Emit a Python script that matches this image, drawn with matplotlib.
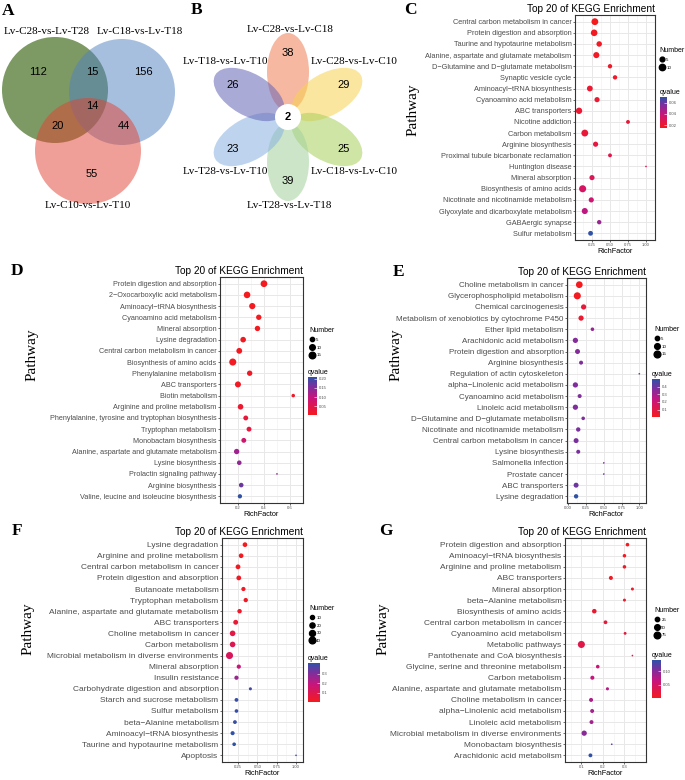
import numpy as np
import matplotlib
matplotlib.use("Agg")
import matplotlib.pyplot as plt
from matplotlib.patches import Circle, Ellipse
from matplotlib.colors import LinearSegmentedColormap
from matplotlib.ticker import MultipleLocator

W, H = 685, 780
SANS = ["Liberation Sans", "DejaVu Sans"]
SERIF = ["Liberation Serif", "DejaVu Serif"]
plt.rcParams["font.family"] = SANS

# ---------------- data ----------------
# A: three-set venn
venn_labels = ["Lv-C28-vs-Lv-T28", "Lv-C18-vs-Lv-T18", "Lv-C10-vs-Lv-T10"]
venn_counts = {"100": 112, "010": 156, "001": 55,
               "110": 15, "101": 20, "011": 44, "111": 14}

# B: flower diagram
flower_labels = ["Lv-C28-vs-Lv-C18", "Lv-C28-vs-Lv-C10", "Lv-C18-vs-Lv-C10",
                 "Lv-T28-vs-Lv-T18", "Lv-T28-vs-Lv-T10", "Lv-T18-vs-Lv-T10"]
flower_counts = [38, 29, 25, 39, 23, 26]
flower_core = 2

# C
c_path = ["Central carbon metabolism in cancer", "Protein digestion and absorption",
          "Taurine and hypotaurine metabolism", "Alanine, aspartate and glutamate metabolism",
          "D\u2212Glutamine and D\u2212glutamate metabolism", "Synaptic vesicle cycle",
          "Aminoacyl\u2212tRNA biosynthesis", "Cyanoamino acid metabolism", "ABC transporters",
          "Nicotine addiction", "Carbon metabolism", "Arginine biosynthesis",
          "Proximal tubule bicarbonate reclamation", "Huntington disease", "Mineral absorption",
          "Biosynthesis of amino acids", "Nicotinate and nicotinamide metabolism",
          "Glyoxylate and dicarboxylate metabolism", "GABAergic synapse", "Sulfur metabolism"]
c_rich = [0.29, 0.28, 0.35, 0.31, 0.5, 0.57, 0.22, 0.32, 0.07, 0.75,
          0.15, 0.30, 0.5, 1.0, 0.25, 0.12, 0.24, 0.15, 0.35, 0.23]
c_num = [12, 11, 7, 9, 4, 4, 8, 6, 10, 3, 12, 6, 3, 1, 6, 13, 6, 9, 4, 5]
c_q = [0.015, 0.016, 0.017, 0.017, 0.018, 0.018, 0.02, 0.02, 0.021, 0.022,
       0.022, 0.024, 0.027, 0.03, 0.03, 0.033, 0.037, 0.042, 0.05, 0.07]

# D
d_path = ["Protein digestion and absorption", "2\u2212Oxocarboxylic acid metabolism",
          "Aminoacyl\u2212tRNA biosynthesis", "Cyanoamino acid metabolism", "Mineral absorption",
          "Lysine degradation", "Central carbon metabolism in cancer", "Biosynthesis of amino acids",
          "Phenylalanine metabolism", "ABC transporters", "Biotin metabolism",
          "Arginine and proline metabolism", "Phenylalanine, tyrosine and tryptophan biosynthesis",
          "Tryptophan metabolism", "Monobactam biosynthesis",
          "Alanine, aspartate and glutamate metabolism", "Lysine biosynthesis",
          "Prolactin signaling pathway", "Arginine biosynthesis",
          "Valine, leucine and isoleucine biosynthesis"]
d_rich = [0.40, 0.27, 0.31, 0.36, 0.35, 0.24, 0.21, 0.16, 0.29, 0.20,
          0.625, 0.22, 0.26, 0.285, 0.245, 0.19, 0.21, 0.5, 0.225, 0.215]
d_num = [16, 15, 13, 9, 9, 10, 11, 18, 9, 12, 3, 10, 7, 7, 7, 9, 6, 1, 6, 5]
d_q = [0.002, 0.002, 0.003, 0.004, 0.005, 0.006, 0.006, 0.007, 0.008, 0.01,
       0.012, 0.02, 0.03, 0.035, 0.08, 0.13, 0.14, 0.14, 0.17, 0.21]

# E
e_path = ["Choline metabolism in cancer", "Glycerophospholipid metabolism",
          "Chemical carcinogenesis", "Metabolism of xenobiotics by cytochrome P450",
          "Ether lipid metabolism", "Arachidonic acid metabolism",
          "Protein digestion and absorption", "Arginine biosynthesis",
          "Regulation of actin cytoskeleton", "alpha\u2212Linolenic acid metabolism",
          "Cyanoamino acid metabolism", "Linoleic acid metabolism",
          "D\u2212Glutamine and D\u2212glutamate metabolism", "Nicotinate and nicotinamide metabolism",
          "Central carbon metabolism in cancer", "Lysine biosynthesis", "Salmonella infection",
          "Prostate cancer", "ABC transporters", "Lysine degradation"]
e_rich = [0.155, 0.127, 0.216, 0.18, 0.34, 0.10, 0.13, 0.18, 1.0, 0.10,
          0.16, 0.10, 0.21, 0.14, 0.11, 0.14, 0.5, 0.5, 0.11, 0.11]
e_num = [15, 17, 8, 8, 3, 8, 7, 4, 1, 8, 4, 8, 3, 5, 7, 4, 1, 1, 7, 5]
e_q = [0.004, 0.006, 0.07, 0.05, 0.33, 0.36, 0.36, 0.37, 0.37, 0.37,
       0.37, 0.37, 0.37, 0.38, 0.38, 0.38, 0.38, 0.38, 0.40, 0.50]

# F
f_path = ["Lysine degradation", "Arginine and proline metabolism",
          "Central carbon metabolism in cancer", "Protein digestion and absorption",
          "Butanoate metabolism", "Tryptophan metabolism",
          "Alanine, aspartate and glutamate metabolism", "ABC transporters",
          "Choline metabolism in cancer", "Carbon metabolism",
          "Microbial metabolism in diverse environments", "Mineral absorption",
          "Insulin resistance", "Carbohydrate digestion and absorption",
          "Starch and sucrose metabolism", "Sulfur metabolism", "beta\u2212Alanine metabolism",
          "Aminoacyl\u2212tRNA biosynthesis", "Taurine and hypotaurine metabolism", "Apoptosis"]
f_rich = [0.34, 0.29, 0.25, 0.26, 0.32, 0.35, 0.27, 0.22, 0.18, 0.18,
          0.14, 0.26, 0.23, 0.41, 0.23, 0.23, 0.21, 0.18, 0.20, 1.0]
f_num = [15, 15, 16, 16, 11, 12, 13, 17, 25, 25, 46, 11, 11, 4, 8, 7, 8, 10, 7, 1]
f_q = [0.003, 0.01, 0.012, 0.015, 0.02, 0.02, 0.03, 0.05, 0.08, 0.1,
       0.12, 0.18, 0.26, 0.38, 0.40, 0.40, 0.40, 0.41, 0.41, 0.41]

# G
g_path = ["Protein digestion and absorption", "Aminoacyl\u2212tRNA biosynthesis",
          "Arginine and proline metabolism", "ABC transporters", "Mineral absorption",
          "beta\u2212Alanine metabolism", "Biosynthesis of amino acids",
          "Central carbon metabolism in cancer", "Cyanoamino acid metabolism",
          "Metabolic pathways", "Pantothenate and CoA biosynthesis",
          "Glycine, serine and threonine metabolism", "Carbon metabolism",
          "Alanine, aspartate and glutamate metabolism", "Choline metabolism in cancer",
          "alpha\u2212Linolenic acid metabolism", "Linoleic acid metabolism",
          "Microbial metabolism in diverse environments", "Monobactam biosynthesis",
          "Arachidonic acid metabolism"]
g_rich = [0.314, 0.30, 0.30, 0.237, 0.337, 0.30, 0.16, 0.212, 0.303, 0.10,
          0.337, 0.176, 0.151, 0.221, 0.145, 0.15, 0.147, 0.113, 0.241, 0.142]
g_num = [15, 14, 14, 20, 9, 9, 28, 17, 8, 88, 4, 15, 20, 10, 20, 19, 19, 42, 4, 18]
g_q = [0.001, 0.003, 0.004, 0.006, 0.01, 0.012, 0.015, 0.02, 0.022, 0.03,
       0.03, 0.06, 0.065, 0.075, 0.08, 0.085, 0.085, 0.1, 0.12, 0.142]

# ---------------- helpers ----------------
fig = plt.figure(figsize=(W / 100, H / 100), dpi=100)
qcmap = LinearSegmentedColormap.from_list(
    "q", [(0, "#f41a1e"), (0.45, "#c8157c"), (0.75, "#7c2f9c"), (1, "#2f51a7")])


def px_rect(l, t, w, h):
    return [l / W, 1 - (t + h) / H, w / W, h / H]


def fig_xy(x, y):
    return x / W, 1 - y / H


def dot_size(v, lo, hi):
    t = (np.asarray(v, float) - lo) / (hi - lo)
    d = 1.2 + 3.9 * np.sqrt(np.clip(t, 0, 1))
    return d ** 2


def letter(ch, x, y):
    fx, fy = fig_xy(x, y)
    fig.text(fx, fy, ch, family=SERIF, fontsize=12.5, fontweight="bold",
             ha="center", va="center")


def dotplot(box, path, rich, num, q, xlim, xticks, xfmt, step, fs,
            breaks, qticks, qfmt, leg_xy, cbar_box, ylab_xy):
    ax = fig.add_axes(px_rect(*box))
    y = np.arange(len(path))
    sc = ax.scatter(rich, y, s=dot_size(num, min(num), max(num)), c=q, cmap=qcmap,
                    vmin=min(q), vmax=max(q), edgecolors="none", zorder=3)
    ax.set_ylim(len(path) - 0.4, -0.6)
    ax.set_xlim(*xlim)
    ax.set_yticks(y)
    ax.set_yticklabels(path, fontsize=fs, color="#4d4d4d")
    ax.set_xticks(xticks)
    ax.set_xticklabels([xfmt.format(v) for v in xticks], fontsize=3, color="#4d4d4d")
    ax.xaxis.set_minor_locator(MultipleLocator(step / 2))
    ax.tick_params(axis="both", which="major", length=1.5, width=0.5, pad=1, color="#333333")
    ax.tick_params(axis="x", which="minor", length=0)
    ax.set_axisbelow(True)
    ax.grid(which="major", color="#e8e8e8", lw=0.7)
    ax.grid(which="minor", axis="x", color="#f0f0f0", lw=0.4)
    for s in ax.spines.values():
        s.set_color("#333333")
        s.set_linewidth(0.8)
    ax.set_xlabel("RichFactor", fontsize=5.3, labelpad=0.5)
    ax.set_title("Top 20 of KEGG Enrichment", loc="right", fontsize=7.3, pad=2)
    fx, fy = fig_xy(*ylab_xy)
    fig.text(fx, fy, "Pathway", family=SERIF, fontsize=11, rotation=90,
             ha="center", va="center")

    handles = [ax.scatter([], [], s=dot_size(b, min(num), max(num)), color="black")
               for b in breaks]
    lx, ly = fig_xy(*leg_xy)
    ax.legend(handles, [str(b) for b in breaks], title="Number", loc="upper left",
              bbox_to_anchor=(lx, ly), bbox_transform=fig.transFigure, frameon=False,
              fontsize=3.2, title_fontsize=5, borderpad=0, handletextpad=0.3,
              labelspacing=0.65, handleheight=1.2, handlelength=1.3, alignment="left")

    cax = fig.add_axes(px_rect(*cbar_box))
    cb = fig.colorbar(sc, cax=cax)
    cb.outline.set_visible(False)
    cb.set_ticks(qticks)
    cb.set_ticklabels([qfmt.format(v) for v in qticks])
    cax.tick_params(labelsize=3, length=2, width=0.4, color="white", direction="in",
                    pad=1, labelcolor="#4d4d4d")
    cax.set_title("qvalue", fontsize=5, loc="left", pad=2)
    return ax


# ---------------- A: venn ----------------
ax_a = fig.add_axes(px_rect(0, 0, 190, 230))
ax_a.set_xlim(0, 190)
ax_a.set_ylim(230, 0)
ax_a.axis("off")
circ = [((55, 90), "#3f6a1c", 0.68), ((122, 92), "#5181c1", 0.5), ((88, 151), "#e14131", 0.5)]
for (cx, cy), col, al in circ:
    ax_a.add_patch(Circle((cx, cy), 53, facecolor=col, alpha=al, lw=0))
num_pos = {"100": (38, 72), "010": (143, 72), "001": (92, 174), "110": (92, 72),
           "101": (58, 126), "011": (124, 126), "111": (92, 106)}
for k, v in venn_counts.items():
    ax_a.text(*num_pos[k], str(v), fontsize=8, ha="center", va="center")
for lab, xy in zip(venn_labels, [(47, 31), (140, 31), (88, 205)]):
    ax_a.text(*xy, lab, family=SERIF, fontsize=8, ha="center", va="center")
letter("A", 8, 11)

# ---------------- B: flower ----------------
ax_b = fig.add_axes(px_rect(170, 0, 235, 230))
ax_b.set_xlim(170, 405)
ax_b.set_ylim(230, 0)
ax_b.axis("off")
fc = (288, 117)
angles = [90, 30, -30, -90, 210, 150]
petal_cols = ["#ef7f52", "#f7d250", "#a8d05c", "#a3d19c", "#8ab2e0", "#6464b6"]
label_pos = [(290, 30), (354, 62), (354, 172), (289, 205), (225, 171), (225, 62)]
for a, col, n, lab, lp in zip(angles, petal_cols, flower_counts, flower_labels, label_pos):
    r = np.deg2rad(a)
    ux, uy = np.cos(r), -np.sin(r)
    ax_b.add_patch(Ellipse((fc[0] + 45 * ux, fc[1] + 45 * uy), 78, 42, angle=-a,
                           facecolor=col, alpha=0.55, lw=0))
    ax_b.text(fc[0] + 64 * ux, fc[1] + 64 * uy, str(n), fontsize=8, ha="center", va="center")
    ax_b.text(*lp, lab, family=SERIF, fontsize=8, ha="center", va="center")
ax_b.add_patch(Circle(fc, 13, facecolor="white", lw=0, zorder=5))
ax_b.text(*fc, str(flower_core), fontsize=8, fontweight="bold", ha="center",
          va="center", zorder=6)
letter("B", 197, 10)

# ---------------- C-G: KEGG dot plots ----------------
dotplot((575, 15, 80, 225), c_path, c_rich, c_num, c_q, (0.014, 1.125),
        [0.25, 0.5, 0.75, 1.0], "{:.2f}", 0.25, 5.3, [5, 10],
        [0.02, 0.04, 0.06], "{:.2f}", (657, 45), (660, 97, 7, 31), (413, 110))
letter("C", 410, 10)

dotplot((220, 277, 83, 226), d_path, d_rich, d_num, d_q, (0.062, 0.70),
        [0.2, 0.4, 0.6], "{:.1f}", 0.2, 5.2, [5, 10, 15],
        [0.05, 0.10, 0.15, 0.20], "{:.2f}", (307, 325), (308, 377, 9, 38), (32, 355))
letter("D", 17, 271)

dotplot((567, 278, 79, 225), e_path, e_rich, e_num, e_q, (-0.018, 1.094),
        [0.0, 0.25, 0.5, 0.75, 1.0], "{:.2f}", 0.25, 5.8, [5, 10, 15],
        [0.1, 0.2, 0.3, 0.4], "{:.1f}", (652, 324), (652, 379, 8, 38), (396, 355))
letter("E", 399, 272)

dotplot((222, 538, 81, 224), f_path, f_rich, f_num, f_q, (0.043, 1.09),
        [0.25, 0.5, 0.75, 1.0], "{:.2f}", 0.25, 6.0, [10, 20, 30, 40],
        [0.1, 0.2, 0.3], "{:.1f}", (307, 603), (308, 663, 12, 39), (28, 629))
letter("F", 17, 531)

dotplot((565, 538, 81, 224), g_path, g_rich, g_num, g_q, (0.024, 0.40),
        [0.1, 0.2, 0.3], "{:.1f}", 0.1, 6.0, [25, 50, 75],
        [0.05, 0.10], "{:.2f}", (652, 605), (652, 660, 9, 38), (383, 629))
letter("G", 386, 531)

fig.savefig("out.png", dpi=100)
